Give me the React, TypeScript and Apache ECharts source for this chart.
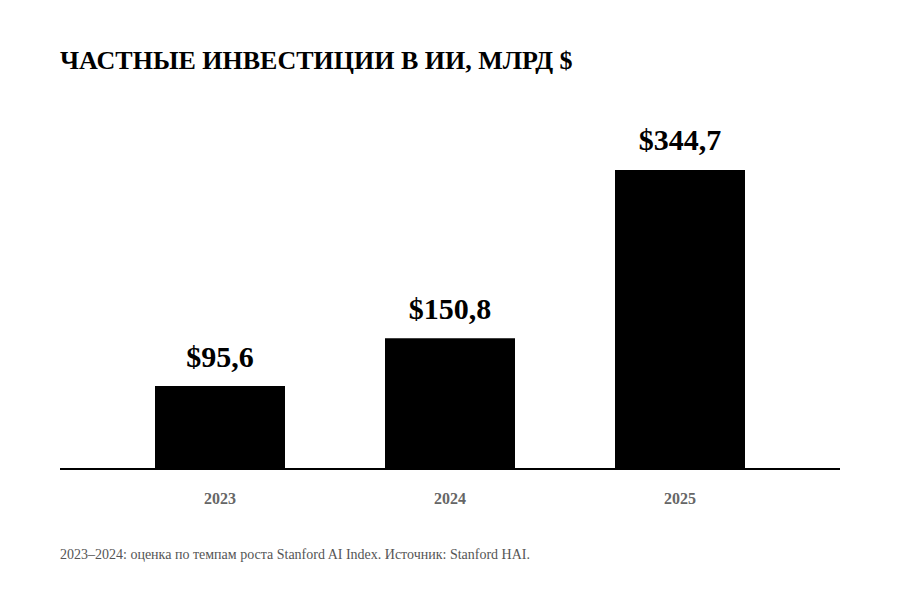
import React, { useEffect, useRef } from "react";
import * as echarts from "echarts";

const categories = ["2023", "2024", "2025"];
const values = [95.6, 150.8, 344.7];
const valueLabels = ["$95,6", "$150,8", "$344,7"];
const titleText = "ЧАСТНЫЕ ИНВЕСТИЦИИ В ИИ, МЛРД $";
const footnoteText = "2023–2024: оценка по темпам роста Stanford AI Index. Источник: Stanford HAI.";

const FONT = "Liberation Serif, Times New Roman, serif";

export default function App() {
  const ref = useRef<HTMLDivElement>(null);
  useEffect(() => {
    document.body.style.margin = "0";
    const chart = echarts.init(ref.current!, undefined, { renderer: "svg" });
    chart.setOption({
      animation: false,
      backgroundColor: "#ffffff",
      textStyle: { fontFamily: FONT },
      title: {
        text: titleText,
        left: 60,
        top: 47,
        padding: 0,
        textStyle: { fontFamily: FONT, fontSize: 26, fontWeight: "bold", color: "#000" },
      },
      grid: { left: 105, right: 105, top: 122, bottom: 131, containLabel: false },
      xAxis: {
        type: "category",
        data: categories,
        axisLine: { show: false },
        axisTick: { show: false },
        axisLabel: {
          margin: 21,
          fontFamily: FONT,
          fontSize: 16,
          fontWeight: "bold",
          color: "#666666",
        },
      },
      yAxis: {
        type: "value",
        min: 0,
        max: 400,
        show: false,
        splitLine: { show: false },
      },
      series: [
        {
          type: "bar",
          data: values,
          barWidth: 130,
          itemStyle: { color: "#000000" },
          label: {
            show: true,
            position: "top",
            distance: 15,
            fontFamily: FONT,
            fontSize: 30,
            fontWeight: "bold",
            color: "#000",
            formatter: (p: any) => valueLabels[p.dataIndex],
          },
        },
      ],
      graphic: [
        {
          type: "line",
          shape: { x1: 60, y1: 469, x2: 840, y2: 469 },
          style: { stroke: "#000", lineWidth: 2 },
          z: 10,
        },
        {
          type: "text",
          left: 60,
          top: 547,
          style: {
            text: footnoteText,
            fontFamily: FONT,
            fontSize: 14,
            fill: "#555555",
          },
        },
      ],
    });
    return () => chart.dispose();
  }, []);
  return <div ref={ref} style={{ width: 900, height: 600 }} />;
}
